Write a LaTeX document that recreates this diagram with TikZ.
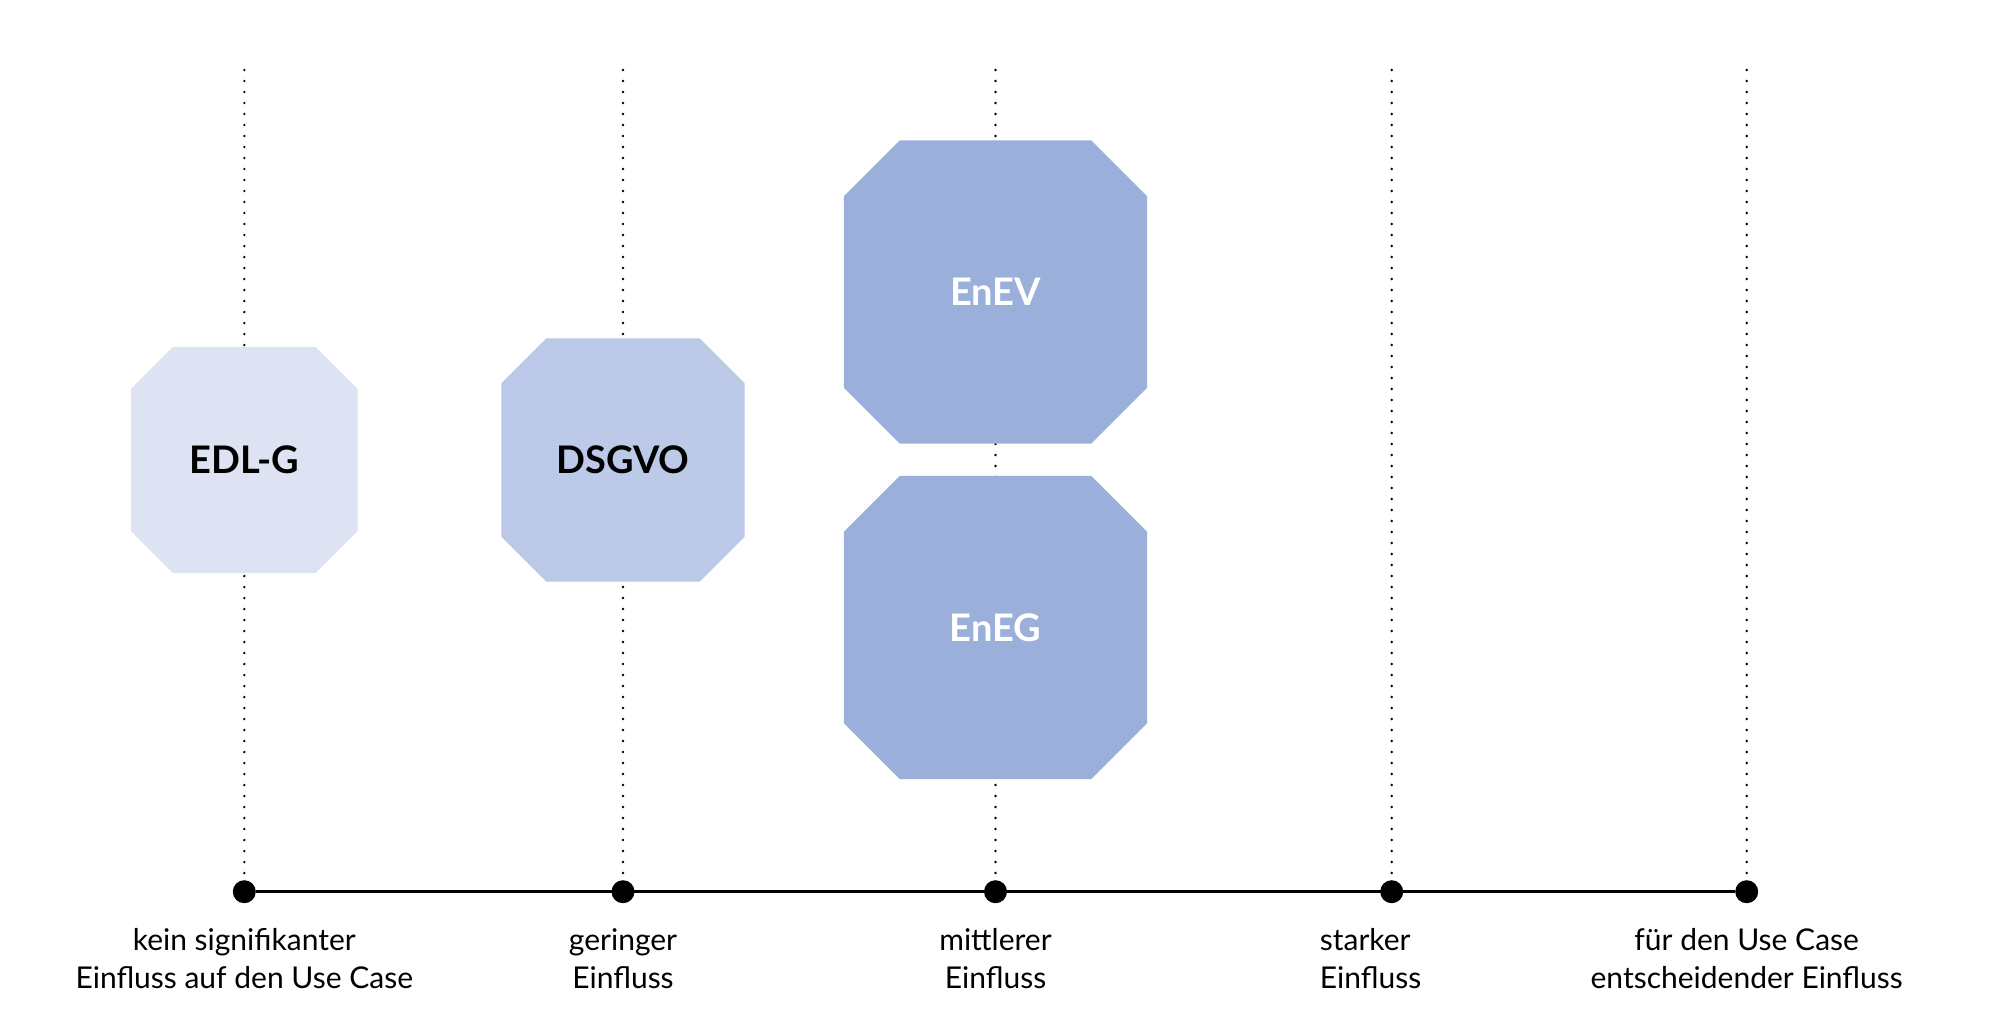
\documentclass[tikz,border=0pt]{standalone}
\usepackage{fontspec}
\setmainfont{Lato}
\definecolor{cA}{HTML}{DEE3F3}
\definecolor{cB}{HTML}{BCC9E8}
\definecolor{cC}{HTML}{9AB0DB}
\tikzset{
  octbox/.style={rectangle, inner sep=0pt, draw=none, minimum width=#1, minimum height=#1},
  octlbl/.style={font=\fontsize{38}{46}\selectfont\bfseries},
  dotline/.style={line width=2.6pt, line cap=round, dash pattern=on 0pt off 11pt},
  axisdot/.style={circle, fill=black, inner sep=0pt, minimum size=23pt},
  lbl/.style={align=center, anchor=base, font=\fontsize{30}{38}\selectfont},
}
\begin{document}
\begin{tikzpicture}[x=1pt,y=-1pt]
\useasboundingbox[fill=white] (0,0) rectangle (2002,1009);
% axis dots
\node[axisdot] (d1) at (244.3,891.7) {};
\node[axisdot] (d2) at (623,891.7) {};
\node[axisdot] (d3) at (995.5,891.7) {};
\node[axisdot] (d4) at (1391.7,891.7) {};
\node[axisdot] (d5) at (1746.7,891.7) {};
% top ends of dotted lines
\coordinate (t1) at (244.3,70);
\coordinate (t2) at (623,70);
\coordinate (t3) at (995.5,70);
\coordinate (t4) at (1391.7,70);
\coordinate (t5) at (1746.7,70);
\foreach \i in {1,...,5}{
  \draw[dotline] (t\i) -- (d\i.center);
}
\draw[line width=2.8pt] (d1) -- (d5);
% octagon frames
\node[octbox=226pt] (edl) at (244.3,460) {};
\node[octbox=243pt] (dsg) at (623,460) {};
\node[octbox=303pt] (enev) at (995.5,292) {};
\node[octbox=303pt] (eneg) at (995.5,627.5) {};
\foreach \n/\c/\col in {edl/42/cA, dsg/45/cB, enev/56/cC, eneg/56/cC}{
  \fill[\col] ([xshift=\c pt]\n.north west) -- ([xshift=-\c pt]\n.north east)
    -- ([yshift=-\c pt]\n.north east) -- ([yshift=\c pt]\n.south east)
    -- ([xshift=-\c pt]\n.south east) -- ([xshift=\c pt]\n.south west)
    -- ([yshift=\c pt]\n.south west) -- ([yshift=-\c pt]\n.north west) -- cycle;
}
\node[octlbl, text=black] (edlt) at (edl.center) {EDL-G};
\node[octlbl, text=black] (dsgt) at (dsg.center) {DSGVO};
\node[octlbl, text=white] (enevt) at (enev.center) {EnEV};
\node[octlbl, text=white] (enegt) at (eneg.center) {EnEG};
% labels
\node[lbl] (l1) at (244.3,988) {kein signifikanter\\Einfluss auf den Use Case};
\node[lbl] (l2) at (623,988) {geringer\\Einfluss};
\node[lbl] (l3) at (995.5,988) {mittlerer\\Einfluss};
\node[lbl, align=left] (l4) at (1370.5,988) {starker\\Einfluss};
\node[lbl] (l5) at (1746.7,988) {für den Use Case\\entscheidender Einfluss};
\end{tikzpicture}
\end{document}
